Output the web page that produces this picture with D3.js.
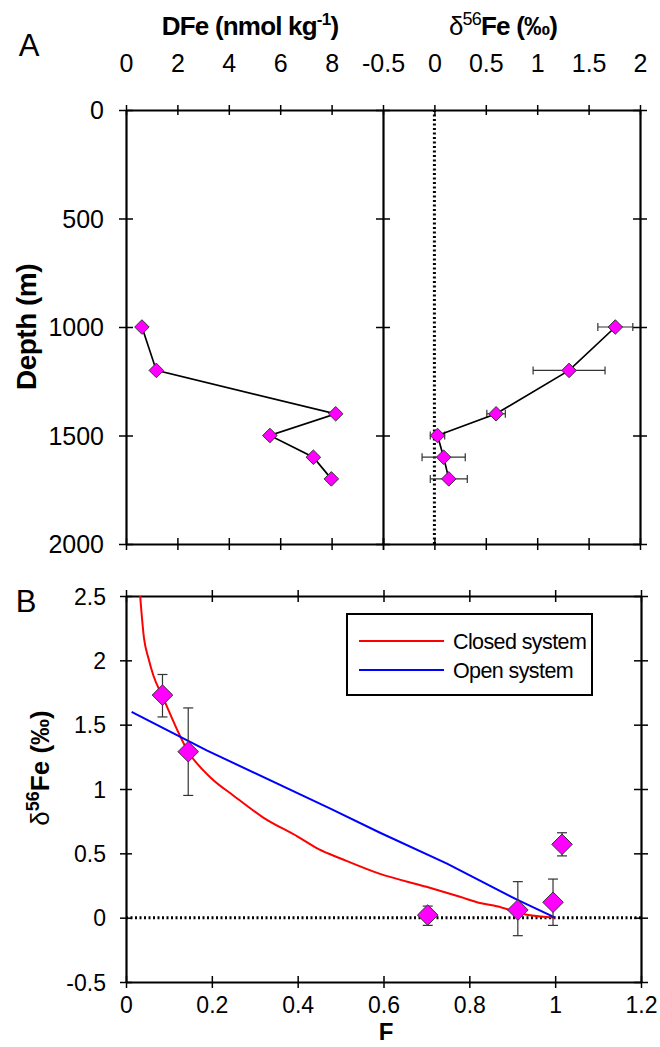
<!DOCTYPE html>
<html>
<head>
<meta charset="utf-8">
<script src="https://cdn.jsdelivr.net/npm/d3@7/dist/d3.min.js"></script>
<style>
  body { margin: 0; background: #fff; }
  svg text { font-family: "Liberation Sans", Arial, sans-serif; fill: #000; }
</style>
</head>
<body>
<svg id="chart" width="660" height="1047"></svg>
<script>
// panel A: depth profile
const depth = [1000, 1200, 1400, 1500, 1600, 1700];
const dfe = [0.62, 1.18, 8.16, 5.6, 7.29, 7.99];
const d56 = [1.76, 1.31, 0.6, 0.03, 0.09, 0.14];
const d56Err = [0.17, 0.35, 0.09, 0.07, 0.21, 0.18];
const depthTicks = [0, 500, 1000, 1500, 2000];
const dfeTicks = [0, 2, 4, 6, 8];
const deltaTicks = [-0.5, 0, 0.5, 1, 1.5, 2];

// panel B: delta vs fraction F
const fracF = [0.085, 0.145, 0.703, 0.913, 0.995, 1.016];
const bDelta = [1.73, 1.29, 0.02, 0.06, 0.12, 0.57];
const bErrHi = [1.89, 1.63, 0.09, 0.28, 0.30, 0.66];
const bErrLo = [1.56, 0.95, -0.06, -0.14, -0.06, 0.48];
const closedF = [0.033, 0.042, 0.052, 0.064, 0.085, 0.145, 0.2, 0.25, 0.319, 0.4, 0.45, 0.5, 0.592, 0.7, 0.78, 0.825, 0.864, 0.934, 1.0];
const closedD = [2.5, 2.17, 2.02, 1.88, 1.72, 1.29, 1.08, 0.95, 0.78, 0.63, 0.53, 0.46, 0.34, 0.24, 0.16, 0.114, 0.088, 0.023, 0];
const openF = [0.013, 0.188, 0.475, 0.592, 0.748, 0.911, 1.0];
const openD = [1.6, 1.3, 0.85, 0.66, 0.42, 0.14, 0];
const fTicks = [0, 0.2, 0.4, 0.6, 0.8, 1, 1.2];
const bTicks = [-0.5, 0, 0.5, 1, 1.5, 2, 2.5];
const legendNames = ["Closed system", "Open system"];
const legendColors = ["#ff0000", "#0000ff"];

const svg = d3.select("#chart");
svg.append("rect").attr("width", 660).attr("height", 1047).attr("fill", "#fff");

const yDepth = d3.scaleLinear().domain([0, 2000]).range([110, 544]);
const xDFe = d3.scaleLinear().domain([0, 10]).range([126, 383]);
const xDelta = d3.scaleLinear().domain([-0.5, 2]).range([383, 640]);

const xF = d3.scaleLinear().domain([0, 1.2]).range([126, 641]);
const yB = d3.scaleLinear().domain([-0.5, 2.5]).range([982, 596]);

// ticks that cross the axis line
function crossTicks(g, vertical, len) {
  g.select(".domain").attr("stroke-width", 2.2);
  g.selectAll(".tick line").attr("stroke-width", 1.5);
  if (vertical) g.selectAll(".tick line").attr("x1", -len).attr("x2", len);
  else g.selectAll(".tick line").attr("y1", -len).attr("y2", len);
}
function noLabels(g) { g.selectAll(".tick text").remove(); }

// ---------- panel A ----------
const fmt = d => String(d);

svg.append("g").attr("transform", "translate(0,110)")
  .call(d3.axisTop(xDFe).tickValues(dfeTicks).tickSizeOuter(0).tickFormat(fmt))
  .call(g => crossTicks(g, false, 5))
  .call(g => g.selectAll(".tick text").attr("font-size", 25).attr("y", -38));
svg.append("g").attr("transform", "translate(0,110)")
  .call(d3.axisTop(xDelta).tickValues(deltaTicks).tickSizeOuter(0).tickFormat(fmt))
  .call(g => crossTicks(g, false, 5))
  .call(g => g.selectAll(".tick text").attr("font-size", 25).attr("y", -38));

svg.append("g").attr("transform", "translate(0,544)")
  .call(d3.axisBottom(xDFe).tickValues(dfeTicks.concat([10])).tickSizeOuter(0))
  .call(g => crossTicks(g, false, 6)).call(noLabels);
svg.append("g").attr("transform", "translate(0,544)")
  .call(d3.axisBottom(xDelta).tickValues(deltaTicks).tickSizeOuter(0))
  .call(g => crossTicks(g, false, 6)).call(noLabels);

svg.append("g").attr("transform", "translate(126,0)")
  .call(d3.axisLeft(yDepth).tickValues(depthTicks).tickSizeOuter(0).tickFormat(fmt))
  .call(g => crossTicks(g, true, 7))
  .call(g => g.selectAll(".tick text").attr("font-size", 25).attr("x", -22).attr("dy", "0.35em"));
[383, 640].forEach(x => {
  svg.append("g").attr("transform", `translate(${x},0)`)
    .call(d3.axisRight(yDepth).tickValues(depthTicks).tickSizeOuter(0))
    .call(g => crossTicks(g, true, 7)).call(noLabels);
});

// zero line on delta panel
svg.append("line")
  .attr("x1", xDelta(0)).attr("x2", xDelta(0))
  .attr("y1", yDepth(0)).attr("y2", yDepth(2000))
  .attr("stroke", "#000").attr("stroke-width", 3).attr("stroke-dasharray", "2,2.5");

const diamond = d3.symbol().type(d3.symbolDiamond2);

// DFe profile
const dfeRows = depth.map((d, i) => ({ depth: d, v: dfe[i] }));
svg.append("path").datum(dfeRows)
  .attr("fill", "none").attr("stroke", "#000").attr("stroke-width", 1.7)
  .attr("d", d3.line().x(d => xDFe(d.v)).y(d => yDepth(d.depth)));
svg.append("g").selectAll("path").data(dfeRows).join("path")
  .attr("transform", d => `translate(${xDFe(d.v)},${yDepth(d.depth)})`)
  .attr("d", diamond.size(135))
  .attr("fill", "#ff00ff").attr("stroke", "#333").attr("stroke-width", 1);

// delta profile
const dRows = depth.map((d, i) => ({ depth: d, v: d56[i], e: d56Err[i] }));
const errA = svg.append("g").attr("stroke", "#333").attr("stroke-width", 1.2);
dRows.forEach(d => {
  const y = yDepth(d.depth), x0 = xDelta(d.v - d.e), x1 = xDelta(d.v + d.e);
  errA.append("line").attr("x1", x0).attr("x2", x1).attr("y1", y).attr("y2", y);
  errA.append("line").attr("x1", x0).attr("x2", x0).attr("y1", y - 4).attr("y2", y + 4);
  errA.append("line").attr("x1", x1).attr("x2", x1).attr("y1", y - 4).attr("y2", y + 4);
});
svg.append("path").datum(dRows)
  .attr("fill", "none").attr("stroke", "#000").attr("stroke-width", 1.7)
  .attr("d", d3.line().x(d => xDelta(d.v)).y(d => yDepth(d.depth)));
svg.append("g").selectAll("path").data(dRows).join("path")
  .attr("transform", d => `translate(${xDelta(d.v)},${yDepth(d.depth)})`)
  .attr("d", diamond.size(135))
  .attr("fill", "#ff00ff").attr("stroke", "#333").attr("stroke-width", 1);

// titles
svg.append("text").attr("x", 29).attr("y", 56).attr("text-anchor", "middle")
  .attr("font-size", 31).text("A");
const t1 = svg.append("text").attr("x", 250).attr("y", 35).attr("text-anchor", "middle")
  .attr("font-size", 26).attr("font-weight", "bold").attr("letter-spacing", -0.8);
t1.append("tspan").text("DFe (nmol kg");
t1.append("tspan").attr("font-size", 17).attr("dy", -10).text("-1");
t1.append("tspan").attr("dy", 10).text(")");
const t2 = svg.append("text").attr("x", 503).attr("y", 35).attr("text-anchor", "middle")
  .attr("font-size", 26).attr("letter-spacing", -0.8);
t2.append("tspan").text("δ");
t2.append("tspan").attr("font-size", 18).attr("dy", -10).text("56");
t2.append("tspan").attr("dy", 10).attr("font-weight", "bold").text("Fe (‰)");

svg.append("text").attr("transform", "translate(36,327) rotate(-90)")
  .attr("text-anchor", "middle").attr("font-size", 28).attr("font-weight", "bold")
  .attr("letter-spacing", -0.5).text("Depth (m)");

// ---------- panel B ----------
svg.append("g").attr("transform", "translate(0,982)")
  .call(d3.axisBottom(xF).tickValues(fTicks).tickSizeOuter(0).tickFormat(fmt))
  .call(g => crossTicks(g, false, 6))
  .call(g => g.selectAll(".tick text").attr("font-size", 23).attr("y", 15).attr("dy", "0.71em"));
svg.append("g").attr("transform", "translate(0,596)")
  .call(d3.axisTop(xF).tickValues(fTicks).tickSizeOuter(0))
  .call(g => crossTicks(g, false, 6)).call(noLabels);
svg.append("g").attr("transform", "translate(126,0)")
  .call(d3.axisLeft(yB).tickValues(bTicks).tickSizeOuter(0).tickFormat(fmt))
  .call(g => crossTicks(g, true, 6))
  .call(g => g.selectAll(".tick text").attr("font-size", 23).attr("x", -20).attr("dy", "0.35em"));
svg.append("g").attr("transform", "translate(641,0)")
  .call(d3.axisRight(yB).tickValues(bTicks).tickSizeOuter(0))
  .call(g => crossTicks(g, true, 7)).call(noLabels);

svg.append("line")
  .attr("x1", xF(0)).attr("x2", xF(1.2)).attr("y1", yB(0)).attr("y2", yB(0))
  .attr("stroke", "#000").attr("stroke-width", 3).attr("stroke-dasharray", "2,2.5");

const lineB = d3.line().x(d => xF(d[0])).y(d => yB(d[1]));
svg.append("path").datum(closedF.map((f, i) => [f, closedD[i]]))
  .attr("fill", "none").attr("stroke", legendColors[0]).attr("stroke-width", 2)
  .attr("d", lineB.curve(d3.curveMonotoneX));
svg.append("path").datum(openF.map((f, i) => [f, openD[i]]))
  .attr("fill", "none").attr("stroke", legendColors[1]).attr("stroke-width", 2)
  .attr("d", lineB.curve(d3.curveLinear));

const errB = svg.append("g").attr("stroke", "#333").attr("stroke-width", 1.2);
fracF.forEach((f, i) => {
  const x = xF(f), y0 = yB(bErrLo[i]), y1 = yB(bErrHi[i]);
  errB.append("line").attr("x1", x).attr("x2", x).attr("y1", y0).attr("y2", y1);
  errB.append("line").attr("x1", x - 5).attr("x2", x + 5).attr("y1", y0).attr("y2", y0);
  errB.append("line").attr("x1", x - 5).attr("x2", x + 5).attr("y1", y1).attr("y2", y1);
});
svg.append("g").selectAll("path").data(fracF).join("path")
  .attr("transform", (f, i) => `translate(${xF(f)},${yB(bDelta[i])})`)
  .attr("d", diamond.size(270))
  .attr("fill", "#ff00ff").attr("stroke", "#333").attr("stroke-width", 1);

// legend
const leg = svg.append("g");
leg.append("rect").attr("x", 347).attr("y", 614).attr("width", 245).attr("height", 81)
  .attr("fill", "#fff").attr("stroke", "#000").attr("stroke-width", 2);
legendNames.forEach((name, i) => {
  const y = 641 + i * 29;
  leg.append("line").attr("x1", 359).attr("x2", 444).attr("y1", y).attr("y2", y)
    .attr("stroke", legendColors[i]).attr("stroke-width", 2);
  leg.append("text").attr("x", 453).attr("y", y + 8).attr("font-size", 21.5)
    .attr("letter-spacing", -0.6).text(name);
});

svg.append("text").attr("x", 26).attr("y", 612).attr("text-anchor", "middle")
  .attr("font-size", 31).text("B");
const t3 = svg.append("text").attr("transform", "translate(49,768) rotate(-90)")
  .attr("text-anchor", "middle").attr("font-size", 26).attr("font-weight", "bold");
t3.append("tspan").attr("font-weight", "normal").text("δ");
t3.append("tspan").attr("font-size", 18).attr("dy", -10).text("56");
t3.append("tspan").attr("dy", 10).text("Fe (‰)");

svg.append("text").attr("x", 386).attr("y", 1040).attr("text-anchor", "middle")
  .attr("font-size", 24).attr("font-weight", "bold").text("F");
</script>
</body>
</html>
